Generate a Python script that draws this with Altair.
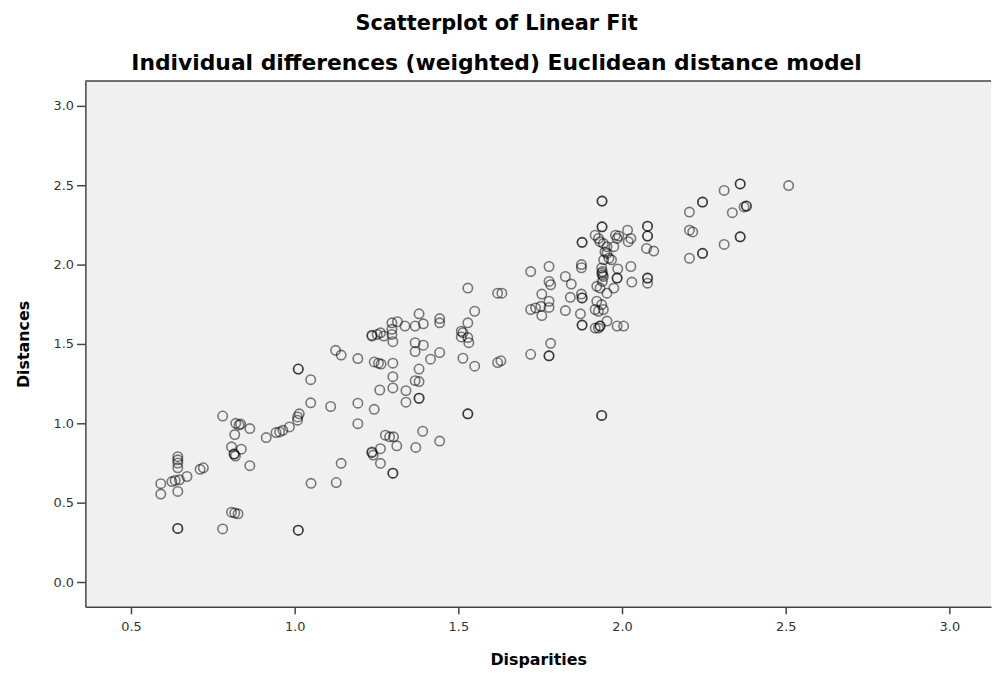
import altair as alt
import pandas as pd

disparities = [
    0.591, 0.591, 0.625, 0.635, 0.648, 0.671, 0.643, 0.643, 0.643, 0.643, 0.643,
    0.711, 0.721, 0.643, 0.643, 0.780, 0.807, 0.817, 0.827, 1.011, 1.011,
    0.780, 0.820, 0.830, 0.835, 0.863, 0.817, 0.807, 0.837, 0.815, 0.815, 0.819,
    0.863, 0.913, 0.943, 0.954, 0.964, 0.984, 1.009, 1.009, 1.014, 1.049, 1.050,
    1.011, 1.011, 1.049, 1.110, 1.125, 1.142, 1.193, 1.193, 1.193, 1.243, 1.256,
    1.264, 1.300, 1.243, 1.300, 1.300, 1.260, 1.236, 1.252, 1.262, 1.272, 1.236,
    1.297, 1.297, 1.297, 1.300, 1.314, 1.337, 1.368, 1.393, 1.380, 1.443, 1.443,
    1.368, 1.393, 1.368, 1.443, 1.415, 1.380, 1.368, 1.380, 1.340, 1.340, 1.380,
    1.380, 1.529, 1.529, 1.514, 1.529, 1.529, 1.532, 1.514, 1.550, 1.509, 1.509,
    1.277, 1.290, 1.302, 1.312, 1.391, 1.370, 1.443, 1.236, 1.240, 1.262, 1.236,
    1.262, 1.300, 1.300, 1.142, 1.127,
    1.529, 1.620, 1.633, 1.550, 1.620, 1.630, 1.938, 1.938, 1.721, 1.777, 1.777,
    1.782, 1.721, 1.736, 1.752, 1.777, 1.777, 1.755, 1.755, 1.827, 1.845, 1.842,
    1.827, 1.876, 1.876, 1.878, 1.878, 1.876, 1.878, 1.878, 1.873, 1.878, 1.878,
    1.721, 1.782, 1.777, 1.777, 1.928,
    1.939, 1.939, 1.939, 1.939, 1.918, 1.928, 1.933, 1.943, 1.954, 1.980, 1.985,
    1.990, 2.017, 2.027, 2.019, 1.975, 2.078, 2.078, 2.078, 2.078, 2.075, 2.097,
    1.948, 1.944, 1.968, 1.987, 2.027, 1.938, 1.938, 1.943, 1.985, 1.985, 2.030,
    2.078, 2.078, 2.078, 1.923, 1.933, 1.975, 1.954, 1.923, 1.938, 1.943, 1.928,
    1.954, 1.985, 2.005, 1.933, 1.933, 1.954, 1.960, 1.940, 1.940, 1.940, 1.918,
    1.918,
    2.206, 2.246, 2.246, 2.312, 2.361, 2.361, 2.337, 2.373, 2.380, 2.380, 2.206,
    2.216, 2.206, 2.246, 2.246, 2.312, 2.361, 2.361, 2.509,
]

distances = [
    0.620, 0.554, 0.633, 0.640, 0.644, 0.665, 0.571, 0.790, 0.770, 0.750, 0.720,
    0.710, 0.720, 0.338, 0.338, 0.335, 0.440, 0.435, 0.430, 0.327, 0.327,
    1.046, 1.000, 0.990, 0.995, 0.967, 0.929, 0.852, 0.837, 0.806, 0.806, 0.794,
    0.733, 0.910, 0.942, 0.946, 0.956, 0.977, 1.040, 1.020, 1.060, 1.129, 0.622,
    1.342, 1.342, 1.275, 1.106, 1.460, 1.430, 1.408, 1.127, 0.998, 1.387, 1.379,
    1.373, 1.379, 1.088, 1.294, 1.223, 1.210, 1.550, 1.560, 1.570, 1.550, 1.555,
    1.633, 1.592, 1.560, 1.514, 1.640, 1.613, 1.613, 1.627, 1.690, 1.660, 1.633,
    1.508, 1.492, 1.452, 1.446, 1.404, 1.342, 1.269, 1.263, 1.206, 1.133, 1.158,
    1.158, 1.060, 1.060, 1.571, 1.633, 1.540, 1.508, 1.410, 1.360, 1.580, 1.544,
    0.925, 0.915, 0.915, 0.858, 0.950, 0.848, 0.888, 0.820, 0.800, 0.840, 0.815,
    0.748, 0.686, 0.686, 0.748, 0.627,
    1.852, 1.820, 1.820, 1.706, 1.383, 1.394, 1.050, 1.050, 1.956, 1.988, 1.894,
    1.873, 1.717, 1.727, 1.737, 1.769, 1.730, 1.679, 1.814, 1.925, 1.877, 1.794,
    1.710, 2.000, 1.980, 2.140, 2.140, 1.814, 1.790, 1.790, 1.690, 1.619, 1.619,
    1.435, 1.504, 1.425, 1.425, 1.600,
    2.400, 2.400, 2.238, 2.238, 2.185, 2.165, 2.144, 2.133, 2.113, 2.185, 2.165,
    2.180, 2.217, 2.165, 2.144, 2.113, 2.242, 2.242, 2.180, 2.180, 2.102, 2.085,
    2.080, 2.030, 2.030, 1.973, 1.988, 1.979, 1.946, 1.925, 1.915, 1.915, 1.890,
    1.915, 1.915, 1.883, 1.863, 1.852, 1.852, 1.820, 1.769, 1.748, 1.717, 1.706,
    1.644, 1.613, 1.613, 1.613, 1.613, 2.070, 2.040, 1.956, 1.935, 1.894, 1.717,
    1.600,
    2.331, 2.394, 2.394, 2.467, 2.508, 2.508, 2.327, 2.363, 2.369, 2.369, 2.217,
    2.206, 2.040, 2.071, 2.071, 2.127, 2.175, 2.175, 2.498,
]

x_ticks = [0.5, 1.0, 1.5, 2.0, 2.5, 3.0]
y_ticks = [0.0, 0.5, 1.0, 1.5, 2.0, 2.5, 3.0]

df = pd.DataFrame({"Disparities": disparities, "Distances": distances})

W, H = 913, 530

points = alt.Chart(df).mark_point(
    shape="circle", filled=False, size=90, stroke="black",
    strokeWidth=1.6, strokeOpacity=0.72,
).encode(
    x=alt.X("Disparities:Q",
            scale=alt.Scale(domain=[0.3606, 3.1273], nice=False, zero=False),
            axis=alt.Axis(values=x_ticks, format=".1f", title="Disparities", grid=False,
                          tickSize=7, labelPadding=7, titlePadding=18)),
    y=alt.Y("Distances:Q",
            scale=alt.Scale(domain=[-0.156, 3.156], nice=False, zero=False),
            axis=alt.Axis(values=y_ticks, format=".1f", title="Distances", grid=False,
                          tickSize=9, labelPadding=3, titlePadding=22)),
)

top_border = alt.Chart(pd.DataFrame({"k": [0]})).mark_rule(
    color="#444444", strokeWidth=1.5
).encode(x=alt.value(0), x2=alt.value(W), y=alt.value(0))

chart = alt.layer(points, top_border).properties(
    width=W, height=H,
    title=alt.TitleParams(
        text="Scatterplot of Linear Fit",
        subtitle="Individual differences (weighted) Euclidean distance model",
        font="DejaVu Sans", fontSize=21, fontWeight="bold", color="black",
        subtitleFont="DejaVu Sans", subtitleFontSize=22, subtitleFontWeight="bold",
        subtitleColor="black", anchor="middle", dx=-42, offset=6, subtitlePadding=20,
    ),
    autosize=alt.AutoSizeParams(type="none"),
    padding={"left": 78, "top": 71, "right": 2, "bottom": 60},
    background="white",
).configure_view(
    fill="#F0F0F0", strokeWidth=0
).configure_axis(
    labelFont="DejaVu Sans", labelFontSize=13, labelColor="#333333",
    titleFont="DejaVu Sans", titleFontSize=16, titleFontWeight="bold", titleColor="black",
    domainColor="#444444", domainWidth=1.5, tickColor="#444444", tickWidth=1.5,
)

chart.save("out.html", embed_options={"renderer": "svg", "actions": False})
